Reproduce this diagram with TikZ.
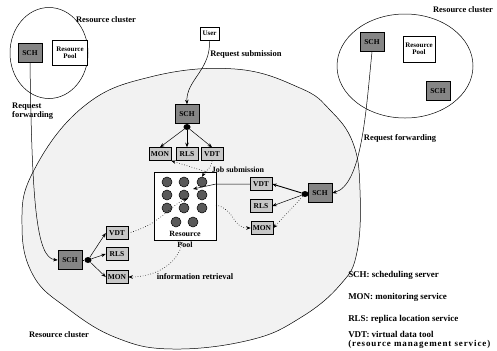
\documentclass[tikz,border=0pt]{standalone}
\usepackage{fontspec}
\setmainfont{Liberation Serif}
\usetikzlibrary{arrows.meta,shapes.geometric}
\begin{document}
\begin{tikzpicture}[x=1bp,y=-1bp, line width=0.5pt,
  tip/.style={-{Stealth[length=4.5bp,width=3.5bp]}},
  sch/.style={draw, fill=black!48, minimum width=24bp, minimum height=19bp, inner sep=0pt, font=\fontsize{7.5}{8}\selectfont\bfseries},
  svc/.style={draw, fill=black!22, minimum width=22bp, minimum height=13bp, inner sep=0pt, font=\fontsize{7.5}{8}\selectfont\bfseries},
  wbox/.style={draw, fill=white, inner sep=0pt, align=center, font=\fontsize{7}{7.5}\selectfont\bfseries},
  res/.style={circle, draw, fill=black!65, minimum size=10bp, inner sep=0pt},
  hub/.style={ellipse, fill=black, minimum width=7bp, minimum height=6bp, inner sep=0pt},
  lbl/.style={font=\fontsize{8.5}{9.5}\selectfont\bfseries, inner sep=0pt},
  leg/.style={font=\fontsize{9}{10}\selectfont\bfseries, inner sep=0pt, anchor=west},
  dot/.style={dotted, line width=0.6pt}
]
\useasboundingbox (0,0) rectangle (497,350);
\begin{scope}
\clip (0,0) rectangle (497,350);
\draw[fill=black!5] plot[smooth cycle, tension=0.7] coordinates {(22,225) (33,172) (83,107) (150,77) (235,69) (300,88) (330,110) (353,143) (360,190) (357,252) (340,285) (300,318) (250,340) (173,349) (117,338) (67,308) (33,275)};
\end{scope}
\draw (49,53) ellipse [x radius=39, y radius=45.5];
\draw (405,66) ellipse [x radius=68, y radius=52];

% top-left cluster
\node[sch] (tlSCH) at (30,53) {SCH};
\node[wbox, minimum width=35bp, minimum height=25bp] (tlPool) at (70,53) {Resource\\Pool};
% top-right cluster
\node[sch] (trSCH) at (372,42) {SCH};
\node[wbox, minimum width=32bp, minimum height=26bp] (trPool) at (419,49) {Resource\\Pool};
\node[sch] (trSCHb) at (438,91) {SCH};

% user and top group
\node[wbox, minimum width=19bp, minimum height=13bp] (user) at (209.5,33.5) {User};
\node[sch] (tSCH) at (187,114) {SCH};
\node[hub] (tdot) at (187,127) {};
\node[svc] (tMON) at (160,154) {MON};
\node[svc] (tRLS) at (187,154) {RLS};
\node[svc] (tVDT) at (212,154) {VDT};

% resource pool
\node[draw, fill=white, minimum width=62bp, minimum height=68bp, inner sep=0pt] (pool) at (185,206) {};
\foreach \n/\x/\y in {c11/167/182, c12/184/182, c13/202/182, c21/167/195, c22/184/195, c23/202/195, c31/167/208, c32/184/208, c33/202/208, c41/176/222, c42/193/222}
  \node[res] (\n) at (\x,\y) {};
\node[lbl, font=\fontsize{8}{9}\selectfont\bfseries] (poolA) at (185,233.5) {Resource};
\node[lbl, font=\fontsize{8}{9}\selectfont\bfseries] (poolB) at (185,245) {Pool};

% right group
\node[sch] (rSCH) at (320,193) {SCH};
\node[hub] (rdot) at (305,194) {};
\node[svc] (rVDT) at (261,184) {VDT};
\node[svc] (rRLS) at (261,206) {RLS};
\node[svc] (rMON) at (262,228) {MON};

% left group
\node[sch] (lSCH) at (70,260) {SCH};
\node[hub] (ldot) at (88,260) {};
\node[svc] (lVDT) at (117,233) {VDT};
\node[svc] (lRLS) at (117,254) {RLS};
\node[svc] (lMON) at (117,277) {MON};

% labels
\node[lbl] (l1) at (106,20) {Resource cluster};
\node[lbl] (l2) at (463,10) {Resource cluster};
\node[lbl] (l3) at (59,335) {Resource cluster};
\node[lbl, anchor=west] (l4) at (210,54) {Request submission};
\node[lbl, anchor=west, align=left] (l5) at (12,111) {Request\\forwarding};
\node[lbl] (l6) at (400,138) {Request forwarding};
\node[lbl, font=\fontsize{8}{9}\selectfont\bfseries] (l7) at (238,170) {Job submission};
\node[lbl] (l8) at (195,277) {information retrieval};

% legend
\node[leg] (g1) at (348,275) {SCH: scheduling server};
\node[leg] (g2) at (348,297) {MON: monitoring service};
\node[leg] (g3) at (348,319) {RLS: replica location service};
\node[leg] (g4) at (348,334.5) {VDT: virtual data tool};
\node[leg, font=\fontsize{9}{10}\selectfont\bfseries\addfontfeature{LetterSpace=10}] (g5) at (348,344) {(resource management service)};

% connectors
\draw[tip] (user.south) .. controls (211,70) and (186,80) .. (tSCH.north);
\draw (tSCH.south) -- (tdot);
\draw[tip] (tdot) -- (tMON.north);
\draw[tip] (tdot) -- (tRLS.north);
\draw[tip] (tdot) -- (tVDT.north);
\draw[dot, tip] (tVDT.south) .. controls (212,168) and (206,170) .. (c13.north);
\draw[dot, tip] (207,172) -- (tMON.south east);

\draw[tip] (trSCH.south) .. controls (366,110) and (362,185) .. (rSCH.east);
\draw (rSCH.west) -- (rdot);
\draw[tip, line width=0.9pt] (rdot) -- (rVDT.east);
\draw[tip] (rdot) -- (rRLS.east);
\draw[dot, tip] (rdot) -- (rMON.east);
\draw[tip] (rVDT.west) -- (216,184) -- (193,189);
\draw[dot, tip] (216,205) .. controls (236,210) and (232,228) .. (rMON.west);

\draw[tip] (tlSCH.south) .. controls (32,200) and (36,258) .. (lSCH.west);
\draw (lSCH.east) -- (ldot);
\draw[tip] (ldot) -- (lVDT.west);
\draw[tip] (ldot) -- (lRLS.west);
\draw[tip] (ldot) -- (lMON.west);
\draw[dot, tip] (lVDT.east) .. controls (160,225) and (170,205) .. (c22.south east);
\draw[dot, tip] (183,240) .. controls (178,268) and (150,277) .. (lMON.east);
\end{tikzpicture}
\end{document}
